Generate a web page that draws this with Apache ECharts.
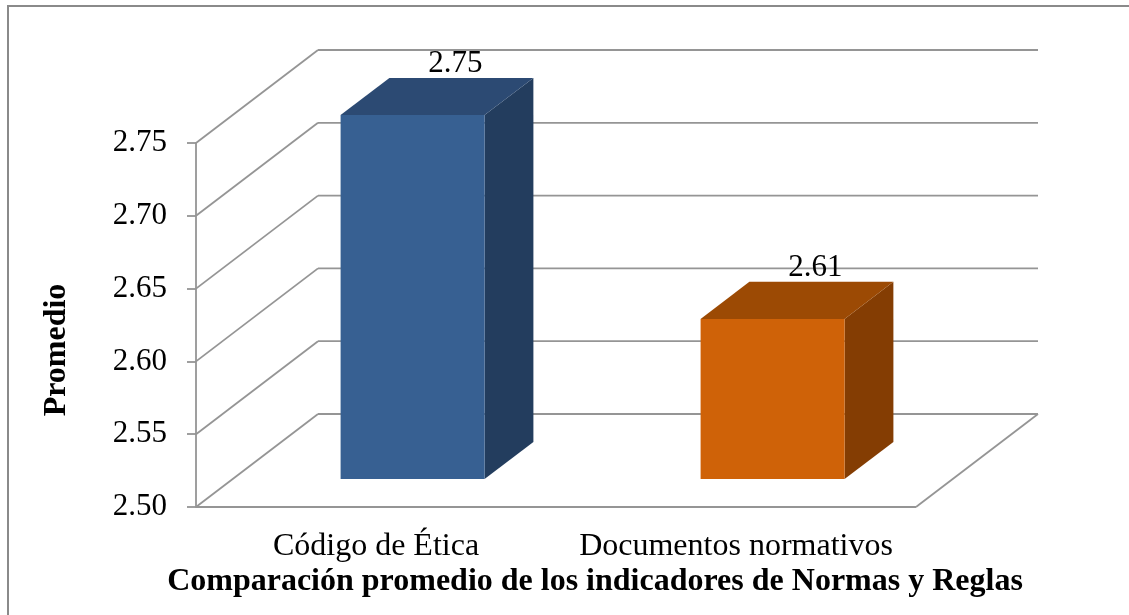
<!DOCTYPE html>
<html>
<head>
<meta charset="utf-8">
<script src="https://cdn.jsdelivr.net/npm/echarts@6/dist/echarts.min.js"></script>
<style>
  html, body { margin: 0; padding: 0; background: #ffffff; }
  #chart { width: 1129px; height: 615px; }
</style>
</head>
<body>
<div id="chart"></div>
<script>
// ---- data ----
const categories = ['Código de Ética', 'Documentos normativos'];
const promedios = [2.75, 2.61];
const yTicks = [2.50, 2.55, 2.60, 2.65, 2.70, 2.75];
const axisMin = 2.50;
const axisMax = 2.75;
const axisStep = 0.05;
const xTitle = 'Comparación promedio de los indicadores de Normas y Reglas';
const yTitle = 'Promedio';

// ---- look ----
const FONT = "'Liberation Serif', 'Times New Roman', serif";
const GRID_COLOR = '#959595';
const GRID_WIDTH = 1.8;
// projection of the chart depth (front plane -> back wall)
const DEPTH_DX = 122;
const DEPTH_DY = -93;
// bars occupy this slice of the floor depth, and this share of a category band
const BAR_FRONT = 0.30;
const BAR_BACK = 0.70;
const BAR_SHARE = 0.40;
const faceColors = [
  { front: '#376092', top: '#2c4a73', side: '#233d5e' },
  { front: '#cf6208', top: '#9c4a04', side: '#843d03' }
];

function seg(x1, y1, x2, y2) {
  return {
    type: 'line',
    shape: { x1: x1, y1: y1, x2: x2, y2: y2 },
    style: { stroke: GRID_COLOR, lineWidth: GRID_WIDTH }
  };
}

// left wall diagonals, back wall lines and floor outline, one group per tick value
function renderWalls(params, api) {
  const cs = params.coordSys;
  const v = api.value(1);
  const y = api.coord([0, v])[1];
  const x0 = cs.x;
  const x1 = cs.x + cs.width;
  const children = [
    seg(x0, y, x0 + DEPTH_DX, y + DEPTH_DY),
    seg(x0 + DEPTH_DX, y + DEPTH_DY, x1 + DEPTH_DX, y + DEPTH_DY)
  ];
  if (Math.abs(v - axisMin) < 1e-9) {
    children.push(seg(x0, y, x1, y));
    children.push(seg(x1, y, x1 + DEPTH_DX, y + DEPTH_DY));
  }
  return { type: 'group', children: children };
}

// 3D box: front face, top face, right side face, and value label
function renderBar(params, api) {
  const idx = api.value(0);
  const val = api.value(1);
  const topPt = api.coord([idx, val]);
  const basePt = api.coord([idx, axisMin]);
  const band = api.size([1, 0])[0];
  const w = band * BAR_SHARE;
  const fx = DEPTH_DX * BAR_FRONT, fy = DEPTH_DY * BAR_FRONT;
  const bx = DEPTH_DX * BAR_BACK, by = DEPTH_DY * BAR_BACK;
  const L = topPt[0] - w / 2, R = topPt[0] + w / 2;
  const T = topPt[1], B = basePt[1];
  const c = faceColors[params.dataIndex % faceColors.length];
  const front = [[L + fx, T + fy], [R + fx, T + fy], [R + fx, B + fy], [L + fx, B + fy]];
  const top = [[L + fx, T + fy], [R + fx, T + fy], [R + bx, T + by], [L + bx, T + by]];
  const side = [[R + fx, T + fy], [R + bx, T + by], [R + bx, B + by], [R + fx, B + fy]];
  return {
    type: 'group',
    children: [
      { type: 'polygon', shape: { points: side }, style: { fill: c.side } },
      { type: 'polygon', shape: { points: top }, style: { fill: c.top } },
      { type: 'polygon', shape: { points: front }, style: { fill: c.front } },
      {
        type: 'text',
        x: topPt[0] + DEPTH_DX * 0.65,
        y: T + by - 14,
        style: {
          text: val.toFixed(2),
          font: '31px ' + FONT,
          fill: '#000000',
          align: 'center',
          verticalAlign: 'middle'
        }
      }
    ]
  };
}

const chart = echarts.init(document.getElementById('chart'), null, { renderer: 'canvas' });

chart.setOption({
  animation: false,
  backgroundColor: '#ffffff',
  grid: { left: 196, right: 213, top: 143, bottom: 108, containLabel: false },
  xAxis: {
    type: 'category',
    data: categories,
    boundaryGap: true,
    axisLine: { show: false },
    axisTick: { show: false },
    splitLine: { show: false },
    axisLabel: {
      interval: 0,
      margin: 24,
      color: '#000000',
      fontFamily: FONT,
      fontSize: 32
    }
  },
  yAxis: {
    type: 'value',
    min: axisMin,
    max: axisMax,
    interval: axisStep,
    axisLine: { show: true, lineStyle: { color: GRID_COLOR, width: GRID_WIDTH } },
    axisTick: { show: true, length: 9, lineStyle: { color: GRID_COLOR, width: GRID_WIDTH } },
    splitLine: { show: false },
    axisLabel: {
      margin: 29,
      color: '#000000',
      fontFamily: FONT,
      fontSize: 31,
      formatter: function (v) { return v.toFixed(2); }
    }
  },
  graphic: [
    {
      type: 'polyline',
      shape: { points: [[8, 615], [8, 6], [1129, 6]] },
      style: { stroke: '#8a8a8a', lineWidth: 2, fill: null }
    },
    {
      type: 'text',
      x: 57, y: 350,
      rotation: Math.PI / 2,
      style: {
        text: yTitle,
        font: 'bold 32px ' + FONT,
        fill: '#000000',
        align: 'center',
        verticalAlign: 'middle'
      }
    },
    {
      type: 'text',
      x: 595, y: 582,
      style: {
        text: xTitle,
        font: 'bold 32px ' + FONT,
        fill: '#000000',
        align: 'center',
        verticalAlign: 'middle'
      }
    }
  ],
  series: [
    {
      type: 'custom',
      name: 'walls',
      z: 1,
      silent: true,
      encode: { x: 0, y: 1 },
      data: yTicks.map(function (t) { return [0, t]; }),
      renderItem: renderWalls
    },
    {
      type: 'custom',
      name: 'Promedio',
      z: 2,
      encode: { x: 0, y: 1 },
      data: promedios.map(function (v, i) { return [i, v]; }),
      renderItem: renderBar
    }
  ]
});
</script>
</body>
</html>
